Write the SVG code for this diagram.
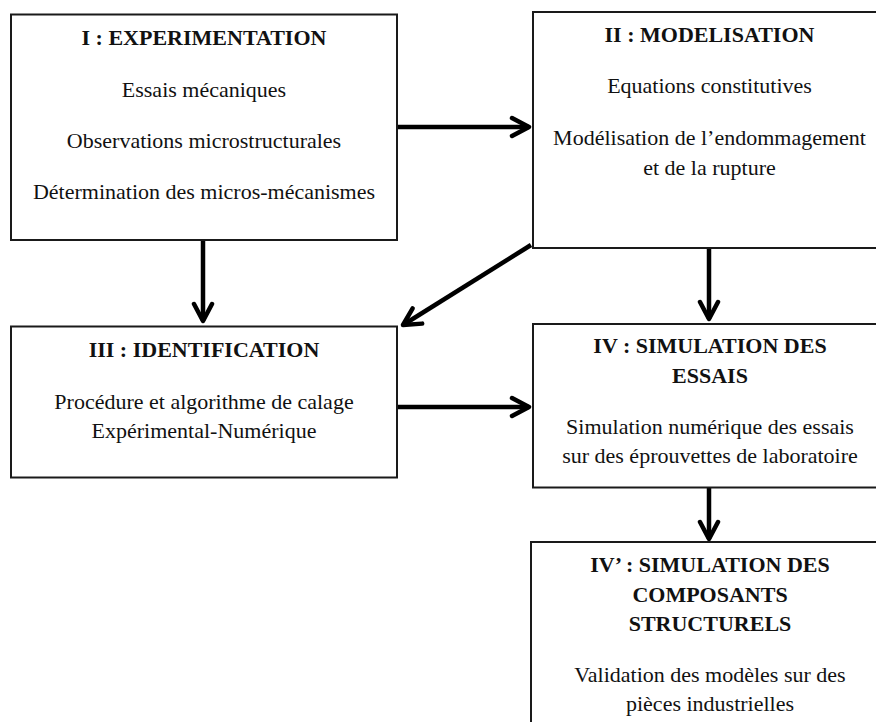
<svg xmlns="http://www.w3.org/2000/svg" width="876" height="722" viewBox="0 0 876 722">
<style>
.box{fill:#fff;stroke:#1a1a1a;stroke-width:2}
text{font-family:"Liberation Serif","Times New Roman",serif;font-size:22px;fill:#111;text-anchor:middle}
.t{font-weight:bold}
.arr{fill:none;stroke:#000;stroke-width:4.5;marker-end:url(#ah)}
</style>
<defs>
<marker id="ah" markerUnits="userSpaceOnUse" markerWidth="24" markerHeight="24" viewBox="0 0 24 24" refX="20" refY="12" orient="auto">
<path d="M3,3 L20,12 L3,21" fill="none" stroke="#000" stroke-width="4.5" stroke-linecap="round" stroke-linejoin="round"/>
</marker>
</defs>
<g id="connectors">
<path class="arr" d="M398,127 L529,127"/>
<path class="arr" d="M203,241 L203,321"/>
<path class="arr" d="M531,245 L403,325"/>
<path class="arr" d="M709,249 L709,319"/>
<path class="arr" d="M398,407 L529,407"/>
<path class="arr" d="M709,488 L709,539"/>
</g>
<g id="n1">
<rect class="box" x="11" y="14.5" width="386" height="225.5"/>
<text class="t" x="204" y="44.5">I : EXPERIMENTATION</text>
<text x="204" y="96.5">Essais mécaniques</text>
<text x="204" y="147.5">Observations microstructurales</text>
<text x="204" y="199">Détermination des micros-mécanismes</text>
</g>
<g id="n2">
<rect class="box" x="533" y="12" width="360" height="236"/>
<text class="t" x="709.5" y="42.3">II : MODELISATION</text>
<text x="709.5" y="93.3">Equations constitutives</text>
<text x="709.5" y="145">Modélisation de l’endommagement</text>
<text x="709.5" y="175">et de la rupture</text>
</g>
<g id="n3">
<rect class="box" x="11" y="326.5" width="386" height="151"/>
<text class="t" x="204" y="357">III : IDENTIFICATION</text>
<text x="204" y="409">Procédure et algorithme de calage</text>
<text x="204" y="438">Expérimental-Numérique</text>
</g>
<g id="n4">
<rect class="box" x="533" y="324" width="360" height="163.5"/>
<text class="t" x="710" y="353">IV : SIMULATION DES</text>
<text class="t" x="710" y="383">ESSAIS</text>
<text x="710" y="434">Simulation numérique des essais</text>
<text x="710" y="463">sur des éprouvettes de laboratoire</text>
</g>
<g id="n5">
<rect class="box" x="531" y="542" width="362" height="200"/>
<text class="t" x="710" y="571.7">IV’ : SIMULATION DES</text>
<text class="t" x="710" y="601.7">COMPOSANTS</text>
<text class="t" x="710" y="630.7">STRUCTURELS</text>
<text x="710" y="681.7">Validation des modèles sur des</text>
<text x="710" y="711">pièces industrielles</text>
</g>
</svg>
